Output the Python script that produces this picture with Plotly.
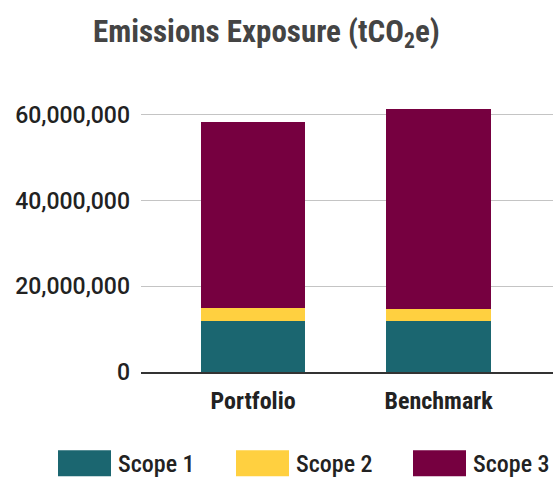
import plotly.graph_objects as go

# Emissions exposure by scope, in tonnes of CO2 equivalent
categories = ["Portfolio", "Benchmark"]
series_names = ["Scope 1", "Scope 2", "Scope 3"]
scope1 = [12_000_000, 12_000_000]
scope2 = [3_000_000, 2_800_000]
scope3 = [43_300_000, 46_600_000]
series_values = [scope1, scope2, scope3]
colors = ["#1b6670", "#ffd040", "#760040"]
y_ticks = [0, 20_000_000, 40_000_000, 60_000_000]

W, H = 555, 477
M_L, M_R, M_T, M_B = 141, 2, 102, 104.5
PLOT_W, PLOT_H = W - M_L - M_R, H - M_T - M_B
cond = "Roboto Condensed, Open Sans Condensed, sans-serif"
plain = "Roboto, Arial, sans-serif"

fig = go.Figure()
for name, vals, col in zip(series_names, series_values, colors):
    fig.add_trace(go.Bar(
        x=categories, y=vals, name=name, marker_color=col,
        marker_line_width=0, width=0.563, showlegend=False,
    ))

fig.update_layout(
    width=W, height=H, barmode="stack",
    paper_bgcolor="white", plot_bgcolor="white",
    margin=dict(l=M_L, r=M_R, t=M_T, b=M_B),
    title=dict(
        text="Emissions Exposure (tCO<sub>2</sub>e)",
        font=dict(family=cond, size=31, color="#444444", weight="bold"),
        x=0.48, xanchor="center", y=0.935, yanchor="middle",
    ),
    font=dict(family=cond, color="#222222"),
)
fig.update_xaxes(
    range=[-0.604, 1.617], showgrid=False,
    showline=True, linecolor="#333333", linewidth=2,
    tickfont=dict(family=cond, size=24, weight="bold", color="#222222"),
    ticks="", ticklabelstandoff=6,
)
fig.update_yaxes(
    range=[0, 63_000_000], tickvals=y_ticks,
    ticktext=[f"{v:,}" for v in y_ticks],
    showgrid=True, gridcolor="#c4c4c4", gridwidth=1,
    zeroline=False, showline=False,
    tickfont=dict(family=plain, size=23, weight=500, color="#222222"),
    ticks="", ticklabelstandoff=10,
)

# Legend row: wide swatches with labels across the bottom of the page
def px_x(x):
    return (x - M_L) / PLOT_W

def px_y(y):
    return (H - M_B - y) / PLOT_H

legend_x = [58, 236, 413]
sw_w, sw_h, sw_top = 53, 26, 451
for name, col, lx in zip(series_names, colors, legend_x):
    fig.add_shape(
        type="rect", xref="paper", yref="paper",
        x0=px_x(lx), x1=px_x(lx + sw_w),
        y0=px_y(sw_top), y1=px_y(sw_top + sw_h),
        fillcolor=col, line_width=0, layer="above",
    )
    fig.add_annotation(
        text=name, xref="paper", yref="paper", showarrow=False,
        x=px_x(lx + sw_w + 5), xanchor="left",
        y=px_y(sw_top + 14), yanchor="middle",
        font=dict(family=cond, size=24, weight=500, color="#222222"),
    )

fig.write_html("out.html")
